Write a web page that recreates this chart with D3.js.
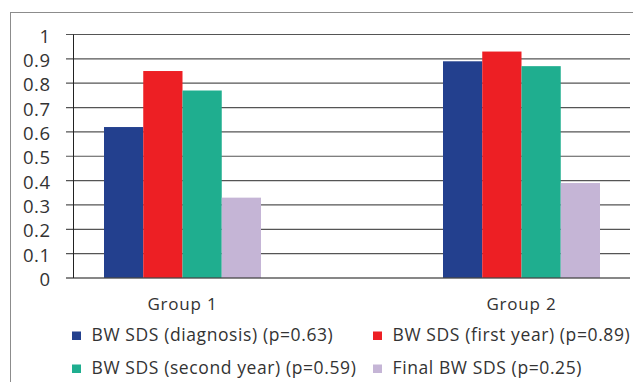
<!DOCTYPE html>
<html><head><meta charset="utf-8">
<script src="https://cdn.jsdelivr.net/npm/d3@7/dist/d3.min.js"></script>
<style>html,body{margin:0;padding:0;background:#fff;}svg{display:block;}</style>
</head><body>
<script>
const groups = ["Group 1", "Group 2"];
const series = ["BW SDS (diagnosis) (p=0.63)", "BW SDS (first year) (p=0.89)", "BW SDS (second year) (p=0.59)", "Final BW SDS (p=0.25)"];
const diagnosis = [0.62, 0.89];
const firstYear = [0.85, 0.93];
const secondYear = [0.77, 0.87];
const finalBW = [0.33, 0.39];
const yTicks = [0, 0.1, 0.2, 0.3, 0.4, 0.5, 0.6, 0.7, 0.8, 0.9, 1];
const colors = ["#23408e", "#ed1f24", "#1fae8f", "#c5b5d6"];

const values = [diagnosis, firstYear, secondYear, finalBW];
const W = 633, H = 382;
const svg = d3.select("body").append("svg").attr("width", W).attr("height", H);
const font = "'Open Sans', sans-serif";

// frame
svg.append("rect").attr("x", 10.5).attr("y", 12.5).attr("width", 700).attr("height", 500)
  .attr("fill", "none").attr("stroke", "#8c8c8c").attr("stroke-width", 1);

const y = d3.scaleLinear().domain([0, 1]).range([278, 34.5]);
const x = d3.scalePoint().domain(groups).range([73, 631]).padding(0.323);
const xs = d3.scaleBand().domain(series).range([-78.5, 78.5]);

// gridlines + ticks
svg.append("g").selectAll("line").data(yTicks.filter(d => d > 0)).join("line")
  .attr("x1", 66).attr("x2", 630).attr("y1", d => y(d)).attr("y2", d => y(d))
  .attr("stroke", "#555").attr("stroke-width", 1.2);

// tick labels
svg.append("g").selectAll("text").data(yTicks).join("text")
  .attr("x", 50.5).attr("y", d => y(d) + 8)
  .attr("text-anchor", "end").attr("font-family", font).attr("font-size", 18.5)
  .attr("letter-spacing", 0.5)
  .attr("fill", "#333").text(d => d3.format("")(d));

// bars
const data = [];
groups.forEach((g, gi) => series.forEach((s, si) => data.push({g, s, si, v: values[si][gi]})));
svg.append("g").selectAll("rect").data(data).join("rect")
  .attr("x", d => x(d.g) + xs(d.s)).attr("width", xs.bandwidth())
  .attr("y", d => y(d.v)).attr("height", d => y(0) - y(d.v))
  .attr("fill", d => colors[d.si]);

// baseline
svg.append("line").attr("x1", 66).attr("x2", 630).attr("y1", y(0)).attr("y2", y(0))
  .attr("stroke", "rgba(70,70,70,0.65)").attr("stroke-width", 2);
// y axis line
svg.append("line").attr("x1", 73.5).attr("x2", 73.5).attr("y1", y(1)).attr("y2", y(0))
  .attr("stroke", "#222").attr("stroke-width", 1);

// group labels
svg.append("g").selectAll("text").data(groups).join("text")
  .attr("x", d => x(d)).attr("y", 310).attr("text-anchor", "middle")
  .attr("font-family", font).attr("font-size", 17).attr("letter-spacing", 0.8)
  .attr("fill", "#333").text(d => d);

// legend
const legPos = [[72, 341], [373, 341], [72, 374], [373, 374]];
const leg = svg.append("g").selectAll("g").data(series).join("g")
  .attr("transform", (d, i) => `translate(${legPos[i][0]},${legPos[i][1]})`);
leg.append("rect").attr("x", 0).attr("y", -9.5).attr("width", 9).attr("height", 8.5)
  .attr("fill", (d, i) => colors[i]);
leg.append("text").attr("x", 19.5).attr("y", 0).attr("font-family", font).attr("font-size", 17.5)
  .attr("letter-spacing", 0.6)
  .attr("fill", "#333").text(d => d);
</script>
</body></html>
